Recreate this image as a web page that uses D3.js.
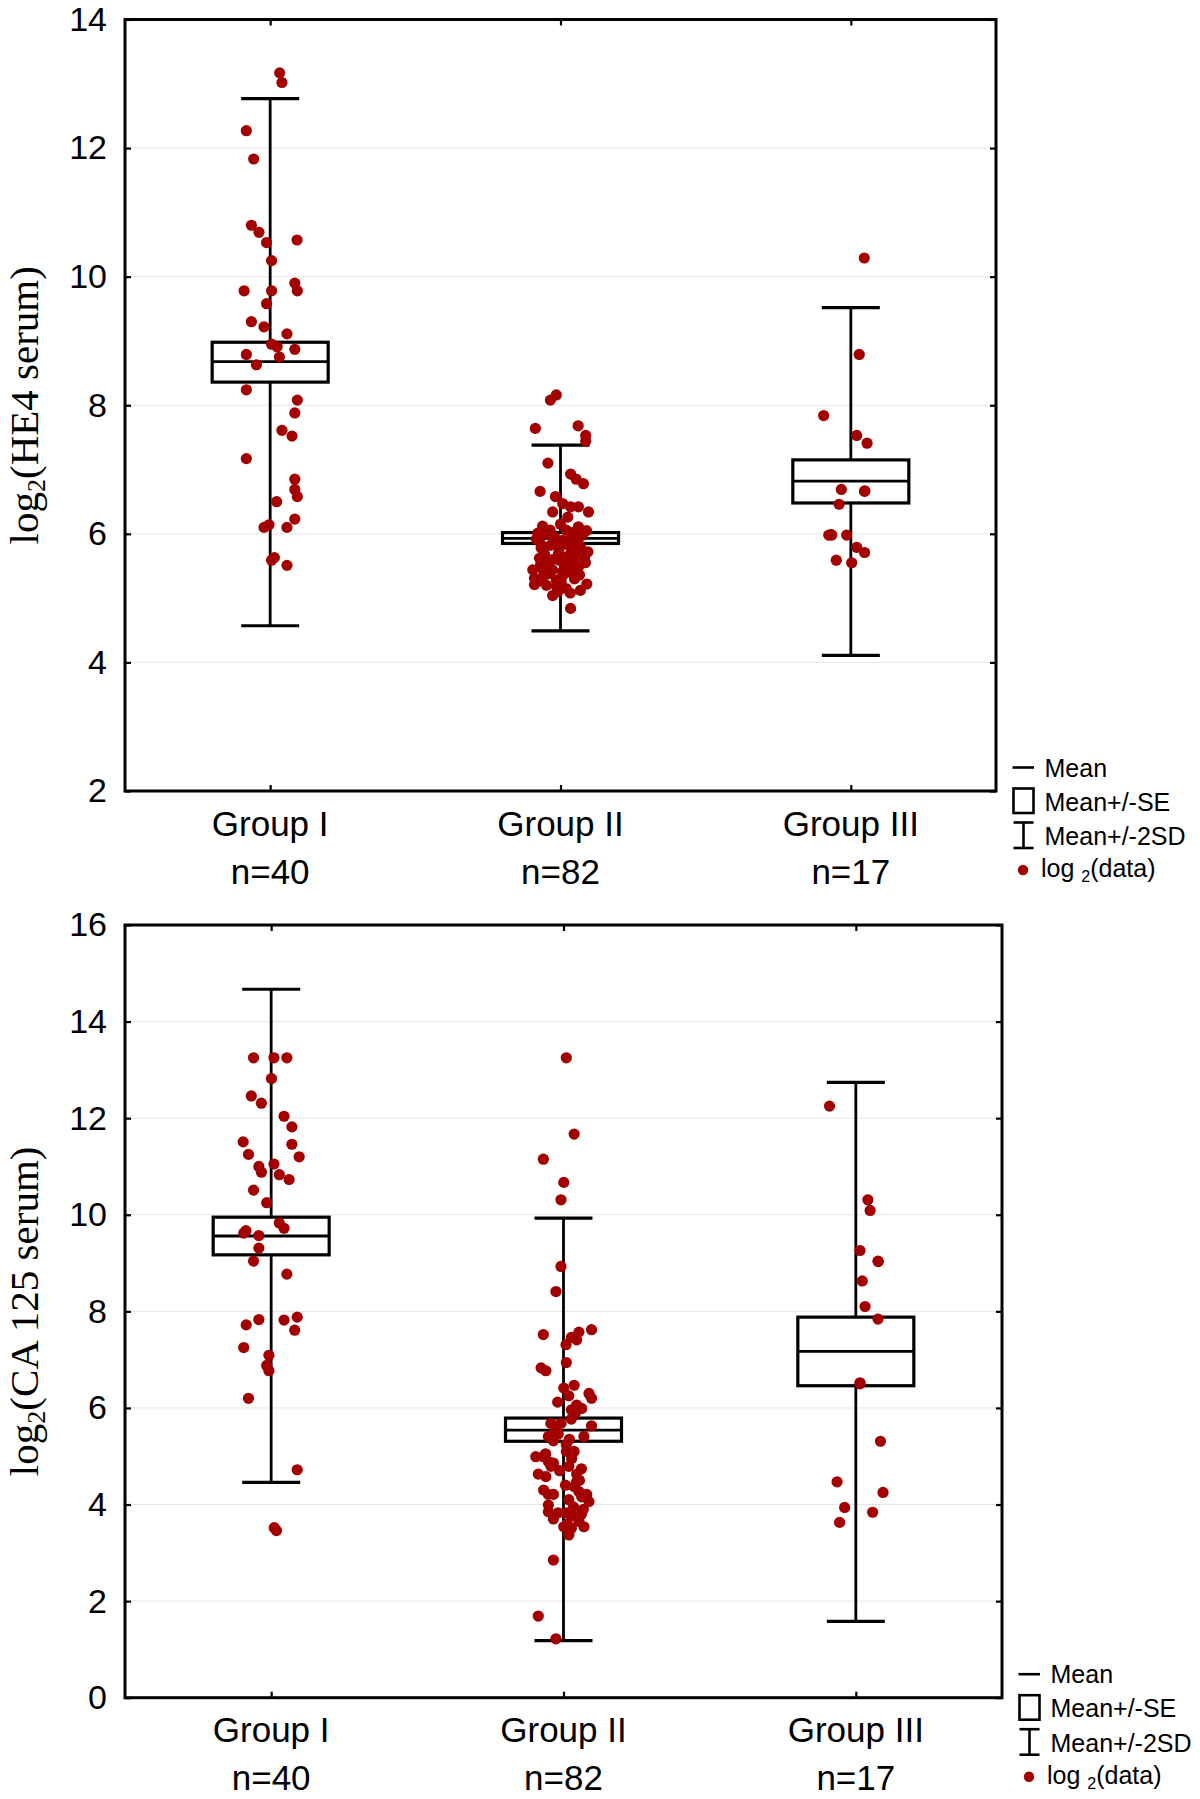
<!DOCTYPE html>
<html>
<head>
<meta charset="utf-8">
<script src="https://cdn.jsdelivr.net/npm/d3@7"></script>
<style>
  body { margin: 0; background: #fff; }
  svg text { font-family: "Liberation Sans", Arial, Helvetica, sans-serif; fill: #000; }
</style>
</head>
<body>
<div id="chart"></div>
<script>
// categories
const groups = ["Group I", "Group II", "Group III"];
const groupN = [40, 82, 17];

// HE4 summary (log2): mean, mean +/- SE, mean +/- 2SD
const he4Mean   = [8.68, 5.93, 6.82];
const he4SeLow  = [8.36, 5.85, 6.48];
const he4SeHigh = [8.98, 6.02, 7.15];
const he4SdLow  = [4.57, 4.49, 4.11];
const he4SdHigh = [12.77, 7.38, 9.52];

// CA 125 summary (log2)
const caMean   = [9.56, 5.54, 7.17];
const caSeLow  = [9.17, 5.31, 6.46];
const caSeHigh = [9.95, 5.79, 7.88];
const caSdLow  = [4.46, 1.18, 1.58];
const caSdHigh = [14.67, 9.93, 12.74];

// raw points: [jitter (-1..1), log2 value]
const he4G1 = [
  [0.34,13.17],[0.42,13.02],[-0.85,12.27],[-0.59,11.83],[-0.67,10.80],[-0.40,10.69],[-0.13,10.53],[0.96,10.57],[0.05,10.25],[-0.93,9.78],
  [0.05,9.78],[0.88,9.90],[0.97,9.78],[-0.13,9.58],[-0.67,9.30],[-0.22,9.22],[0.60,9.11],[0.05,8.95],[0.25,8.91],[-0.85,8.79],
  [0.88,8.87],[0.33,8.75],[-0.49,8.63],[-0.85,8.24],[0.97,8.08],[0.88,7.88],[0.42,7.61],[0.78,7.52],[-0.85,7.17],[0.88,6.85],
  [0.88,6.69],[0.97,6.58],[0.23,6.50],[0.88,6.23],[-0.22,6.10],[-0.04,6.14],[0.60,6.10],[0.05,5.59],[0.15,5.63],[0.60,5.51]
];
const he4G2 = [
  [-0.15,8.16],[-0.36,8.08],[-0.90,7.64],[0.63,7.68],[0.90,7.53],[0.90,7.44],[-0.45,7.10],[0.36,6.93],[0.56,6.85],[0.82,6.78],
  [-0.73,6.66],[-0.18,6.58],[0.08,6.47],[0.36,6.42],[0.64,6.42],[-0.28,6.34],[1.00,6.34],[0.26,6.26],[-0.37,6.06],[0.64,6.11],
  [-0.81,6.01],[0.20,6.06],[-0.75,5.88],[-0.15,5.88],[0.08,5.90],[0.38,5.96],[0.62,5.90],[-0.69,5.78],[-0.04,5.78],[0.38,5.78],
  [0.56,5.72],[0.98,5.72],[-0.75,5.62],[-0.45,5.57],[-0.04,5.59],[0.50,5.59],[0.89,5.55],[0.26,5.52],[-0.99,5.44],[-0.63,5.44],
  [-0.28,5.44],[0.08,5.41],[0.56,5.44],[-0.93,5.31],[-0.63,5.33],[-0.15,5.28],[0.68,5.36],[-0.93,5.21],[0.03,5.23],[0.94,5.22],
  [0.20,5.15],[-0.10,5.10],[-0.28,5.04],[0.35,5.08],[0.36,4.84],
  [-0.54,6.00],[0.43,6.02],[-0.21,5.95],[0.79,5.98],[-0.86,5.92],[0.21,5.84],[-0.36,5.82],[0.71,5.80],[-0.07,5.70],[-0.57,5.68],
  [0.29,5.66],[0.86,5.64],[-0.29,5.60],[0.14,5.50],[-0.71,5.52],[0.64,5.48],[-0.43,5.38],[0.36,5.40],[-0.79,5.26],[0.07,5.34],
  [0.50,5.30],[-0.14,5.18],[-0.50,5.20],[0.71,5.12],[0.00,6.15],[-0.64,6.12],[0.93,6.05]
];
const he4G3 = [
  [0.48,10.29],[0.30,8.79],[-0.97,7.84],[0.21,7.53],[0.58,7.41],[-0.34,6.69],[0.49,6.66],[-0.42,6.46],[-0.79,5.98],[-0.68,5.98],
  [-0.15,5.98],[0.21,5.79],[0.49,5.71],[-0.52,5.59],[0.03,5.55],[-0.70,5.99],[0.50,6.67]
];

const caG1 = [
  [-0.63,13.25],[0.10,13.25],[0.56,13.25],[0.01,12.82],[-0.71,12.46],[-0.35,12.31],[0.46,12.04],[0.74,11.82],[-1.00,11.51],[0.74,11.46],
  [-0.81,11.25],[1.00,11.20],[-0.44,11.00],[0.10,11.05],[-0.35,10.88],[0.29,10.83],[0.64,10.73],[-0.63,10.51],[-0.16,10.25],[0.29,9.83],
  [0.46,9.72],[-0.90,9.67],[-0.98,9.62],[-0.44,9.57],[-0.44,9.31],[-0.63,9.04],[0.56,8.77],[-0.44,7.83],[-0.89,7.72],[0.46,7.82],
  [0.93,7.88],[0.84,7.61],[-0.98,7.25],[-0.08,7.09],[-0.16,6.88],[-0.08,6.77],[-0.81,6.20],[0.93,4.72],[0.11,3.52],[0.19,3.46]
];
const caG2 = [
  [0.10,13.25],[0.38,11.67],[-0.72,11.15],[0.01,10.67],[-0.09,10.31],[-0.09,8.93],[-0.27,8.41],[-0.72,7.52],[1.00,7.62],[0.55,7.57],
  [0.28,7.46],[0.47,7.41],[0.09,7.31],[0.10,6.94],[-0.80,6.83],[-0.63,6.77],[0.38,6.47],[0.01,6.41],[0.19,6.25],[0.91,6.30],
  [1.00,6.20],[0.47,6.06],[0.65,5.99],[0.28,5.96],[0.28,5.77],[-0.45,5.68],[-0.09,5.68],[1.00,5.63],[-0.54,5.41],[-0.19,5.46],
  [0.73,5.41],[-0.36,5.32],[0.10,5.24],[0.10,5.10],[0.38,5.10],[-0.99,4.99],[-0.72,4.99],[-0.54,4.89],[-0.36,4.86],[-0.45,4.79],
  [0.19,4.79],[0.64,4.74],[-0.90,4.63],[-0.63,4.58],[0.47,4.63],[0.47,4.47],[0.38,4.37],[0.55,4.27],[-0.54,4.21],[-0.36,4.21],
  [0.83,4.21],[0.65,4.16],[0.91,4.06],[0.19,4.10],[-0.54,3.99],[-0.54,3.85],[-0.19,3.83],[0.10,3.83],[0.28,3.77],[0.64,3.80],
  [0.55,3.65],[0.73,3.54],[0.01,3.54],[0.28,3.51],[0.19,3.37],[-0.36,2.85],[-0.90,1.69],[-0.27,1.22],
  [0.43,5.90],[-0.29,5.55],[0.21,5.35],[-0.64,5.05],[0.29,4.95],[-0.14,4.70],[0.57,4.50],[-0.71,4.30],[0.07,4.40],[0.36,3.95],
  [-0.36,3.70],[0.71,3.90],[0.14,3.60],[-0.21,6.12]
];
const caG3 = [
  [-0.94,12.25],[0.43,10.31],[0.51,10.09],[0.15,9.26],[0.79,9.04],[0.23,8.63],[0.33,8.10],[0.79,7.84],[0.15,6.52],[0.88,5.31],
  [-0.67,4.47],[0.97,4.25],[-0.40,3.94],[0.60,3.84],[-0.58,3.63],[0.80,9.03],[0.15,6.50]
];

const he4Ticks = [2, 4, 6, 8, 10, 12, 14];
const caTicks = [0, 2, 4, 6, 8, 10, 12, 14, 16];

const dotColor = "#a30000";

const svg = d3.select("#chart").append("svg")
  .attr("width", 1200)
  .attr("height", 1799);

function drawPanel(p) {
  const x = d3.scalePoint().domain(groups).range([p.left, p.right]).padding(0.5);
  const y = d3.scaleLinear().domain(p.yDomain).range([p.bottom, p.top]);
  const jitter = d3.scaleLinear().domain([-1, 1]).range([-28, 28]);
  const boxHalf = 58, capHalf = 29;

  const g = svg.append("g");

  // light grid
  g.append("g").selectAll("line")
    .data(p.yTicks.slice(1, -1))
    .join("line")
    .attr("x1", p.left).attr("x2", p.right)
    .attr("y1", d => y(d)).attr("y2", d => y(d))
    .attr("stroke", "#e6e6e6").attr("stroke-width", 1);

  // axes, ticks pointing inward
  const left = g.append("g").attr("transform", `translate(${p.left},0)`)
    .call(d3.axisLeft(y).tickValues(p.yTicks).tickSize(-6).tickSizeOuter(0).tickPadding(18));
  left.selectAll("text").attr("font-size", 34).attr("font-family", "Liberation Sans, Arial, sans-serif");
  g.append("g").attr("transform", `translate(${p.right},0)`)
    .call(d3.axisRight(y).tickValues(p.yTicks).tickSize(-6).tickSizeOuter(0).tickFormat(""));
  g.append("g").attr("transform", `translate(0,${p.top})`)
    .call(d3.axisTop(x).tickSize(-6).tickSizeOuter(0).tickFormat(""));
  g.append("g").attr("transform", `translate(0,${p.bottom})`)
    .call(d3.axisBottom(x).tickSize(-6).tickSizeOuter(0).tickFormat(""));
  g.selectAll(".domain").remove();
  g.selectAll(".tick line").attr("stroke", "#000").attr("stroke-width", 2.2);

  // frame
  g.append("rect")
    .attr("x", p.left).attr("y", p.top)
    .attr("width", p.right - p.left).attr("height", p.bottom - p.top)
    .attr("fill", "none").attr("stroke", "#000").attr("stroke-width", 3);

  // group labels
  const lab = g.append("g").selectAll("g").data(groups).join("g");
  lab.append("text")
    .attr("x", d => x(d)).attr("y", p.bottom + 44.5)
    .attr("text-anchor", "middle").attr("font-size", 35)
    .text(d => d);
  lab.append("text")
    .attr("x", d => x(d)).attr("y", p.bottom + 92.5)
    .attr("text-anchor", "middle").attr("font-size", 35)
    .text((d, i) => "n=" + groupN[i]);

  // y label (serif, rotated)
  const yl = g.append("text")
    .attr("transform", `translate(38,${(p.top + p.bottom) / 2}) rotate(-90)`)
    .attr("text-anchor", "middle")
    .attr("font-size", 41)
    .style("font-family", "'Liberation Serif', 'Times New Roman', serif");
  yl.append("tspan").text("log");
  yl.append("tspan").attr("font-size", 26).attr("dy", 7).text("2");
  yl.append("tspan").attr("dy", -7).text(p.label);

  const stats = groups.map((d, i) => ({
    g: d, mean: p.mean[i], seLow: p.seLow[i], seHigh: p.seHigh[i], sdLow: p.sdLow[i], sdHigh: p.sdHigh[i]
  }));

  // whiskers (mean +/- 2SD)
  const w = g.append("g").selectAll("g").data(stats).join("g")
    .attr("stroke", "#000").attr("stroke-width", 2.8);
  w.append("line")
    .attr("x1", d => x(d.g)).attr("x2", d => x(d.g))
    .attr("y1", d => y(d.sdLow)).attr("y2", d => y(d.sdHigh));
  w.append("line")
    .attr("x1", d => x(d.g) - capHalf).attr("x2", d => x(d.g) + capHalf)
    .attr("y1", d => y(d.sdHigh)).attr("y2", d => y(d.sdHigh))
    .attr("stroke-width", 3.2);
  w.append("line")
    .attr("x1", d => x(d.g) - capHalf).attr("x2", d => x(d.g) + capHalf)
    .attr("y1", d => y(d.sdLow)).attr("y2", d => y(d.sdLow))
    .attr("stroke-width", 3.2);

  // box (mean +/- SE) and mean line
  w.append("rect")
    .attr("x", d => x(d.g) - boxHalf).attr("width", boxHalf * 2)
    .attr("y", d => y(d.seHigh)).attr("height", d => y(d.seLow) - y(d.seHigh))
    .attr("fill", "#fff").attr("stroke-width", 3.2);
  w.append("line")
    .attr("x1", d => x(d.g) - boxHalf).attr("x2", d => x(d.g) + boxHalf)
    .attr("y1", d => y(d.mean)).attr("y2", d => y(d.mean));

  // data points
  p.points.forEach((pts, i) => {
    g.append("g").selectAll("circle").data(pts).join("circle")
      .attr("cx", d => x(groups[i]) + jitter(d[0]))
      .attr("cy", d => y(d[1]))
      .attr("r", 5.6)
      .attr("fill", dotColor);
  });

  // legend
  const R = p.right, B = p.bottom;
  const lg = g.append("g");
  lg.append("line").attr("x1", R + 16.5).attr("x2", R + 38).attr("y1", B - 23.5).attr("y2", B - 23.5)
    .attr("stroke", "#000").attr("stroke-width", 2.6);
  lg.append("rect").attr("x", R + 17.5).attr("y", B - 2.5).attr("width", 20).attr("height", 24.5)
    .attr("fill", "#fff").attr("stroke", "#000").attr("stroke-width", 2.6);
  lg.append("line").attr("x1", R + 27.5).attr("x2", R + 27.5).attr("y1", B + 31.5).attr("y2", B + 57)
    .attr("stroke", "#000").attr("stroke-width", 2.6);
  lg.append("line").attr("x1", R + 17.5).attr("x2", R + 37.5).attr("y1", B + 31.5).attr("y2", B + 31.5)
    .attr("stroke", "#000").attr("stroke-width", 2.6);
  lg.append("line").attr("x1", R + 17.5).attr("x2", R + 37.5).attr("y1", B + 57).attr("y2", B + 57)
    .attr("stroke", "#000").attr("stroke-width", 2.6);
  lg.append("circle").attr("cx", R + 27).attr("cy", B + 79).attr("r", 5.2).attr("fill", dotColor);

  const legendText = ["Mean", "Mean+/-SE", "Mean+/-2SD"];
  const legendY = [B - 14.5, B + 19.5, B + 54];
  legendText.forEach((t, i) => {
    lg.append("text").attr("x", R + 48.5).attr("y", legendY[i]).attr("font-size", 25).text(t);
  });
  const lt = lg.append("text").attr("x", R + 45).attr("y", B + 86).attr("font-size", 25);
  lt.append("tspan").text("log ");
  lt.append("tspan").attr("font-size", 16).attr("dy", 5).text("2");
  lt.append("tspan").attr("dy", -5).text("(data)");
}

drawPanel({
  top: 19.5, bottom: 791, left: 125, right: 996,
  yDomain: [2, 14], yTicks: he4Ticks, label: "(HE4 serum)",
  mean: he4Mean, seLow: he4SeLow, seHigh: he4SeHigh, sdLow: he4SdLow, sdHigh: he4SdHigh,
  points: [he4G1, he4G2, he4G3]
});

drawPanel({
  top: 925, bottom: 1697.7, left: 125, right: 1002,
  yDomain: [0, 16], yTicks: caTicks, label: "(CA 125 serum)",
  mean: caMean, seLow: caSeLow, seHigh: caSeHigh, sdLow: caSdLow, sdHigh: caSdHigh,
  points: [caG1, caG2, caG3]
});
</script>
</body>
</html>
